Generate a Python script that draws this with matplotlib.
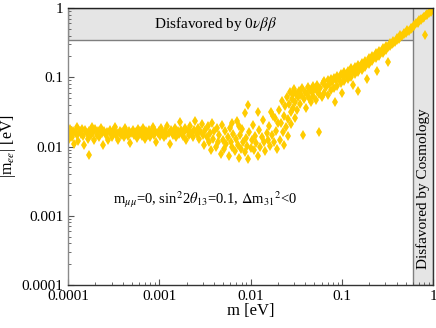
import matplotlib
matplotlib.use("Agg")
import matplotlib.pyplot as plt
from matplotlib.ticker import FixedLocator, FixedFormatter, LogLocator, NullFormatter

plt.rcParams['font.family'] = ['Liberation Serif', 'DejaVu Serif']
plt.rcParams['mathtext.fontset'] = 'stix'

# ---- data: (m [eV], |m_ee| [eV]) ----
m_flat = [1.00e-4, 1.02e-4, 1.05e-4, 1.08e-4, 1.10e-4, 1.13e-4, 1.16e-4, 1.20e-4, 1.24e-4, 1.27e-4,
          1.30e-4, 1.34e-4, 1.38e-4, 1.42e-4, 1.46e-4, 1.50e-4, 1.55e-4, 1.60e-4, 1.65e-4, 1.70e-4,
          1.72e-4, 1.78e-4, 1.83e-4, 1.90e-4, 1.95e-4, 2.00e-4, 2.07e-4, 2.15e-4, 2.20e-4, 2.28e-4,
          2.35e-4, 2.42e-4, 2.50e-4, 2.58e-4, 2.67e-4, 2.75e-4, 2.85e-4, 2.95e-4, 3.05e-4, 3.15e-4,
          3.25e-4, 3.35e-4, 3.45e-4, 3.57e-4, 3.70e-4, 3.82e-4, 3.95e-4, 4.08e-4, 4.20e-4, 4.35e-4,
          4.50e-4, 4.65e-4, 4.80e-4, 4.95e-4, 5.10e-4, 5.30e-4, 5.50e-4, 5.70e-4, 5.85e-4, 6.00e-4,
          6.20e-4, 6.40e-4, 6.60e-4, 6.80e-4, 7.00e-4, 7.20e-4, 7.45e-4, 7.70e-4, 7.95e-4, 8.20e-4,
          8.45e-4, 8.70e-4, 9.00e-4, 9.30e-4, 9.60e-4, 9.90e-4, 1.02e-3, 1.05e-3, 1.08e-3, 1.12e-3,
          1.15e-3, 1.19e-3, 1.23e-3, 1.27e-3, 1.31e-3, 1.35e-3, 1.40e-3, 1.44e-3, 1.49e-3, 1.54e-3,
          1.59e-3, 1.64e-3, 1.70e-3, 1.75e-3, 1.80e-3, 1.86e-3, 1.92e-3, 1.98e-3, 2.05e-3, 2.12e-3,
          2.18e-3, 2.25e-3, 2.32e-3, 2.40e-3, 2.48e-3, 2.56e-3, 2.65e-3, 2.74e-3, 2.83e-3, 2.92e-3,
          3.00e-3]
mee_flat = [0.016, 0.013, 0.018, 0.015, 0.0135, 0.017, 0.011, 0.016, 0.0145, 0.019,
            0.012, 0.0165, 0.015, 0.018, 0.014, 0.0105, 0.0175, 0.0155, 0.013, 0.0075,
            0.017, 0.0145, 0.019, 0.016, 0.0125, 0.018, 0.0148, 0.0165, 0.0135, 0.0185,
            0.0155, 0.0105, 0.017, 0.0145, 0.016, 0.0125, 0.0175, 0.015, 0.0135, 0.0165,
            0.019, 0.0145, 0.0158, 0.0125, 0.017, 0.0148, 0.0162, 0.0135, 0.0185, 0.0155,
            0.0142, 0.0168, 0.0112, 0.0158, 0.0175, 0.0145, 0.016, 0.0132, 0.0178, 0.0152,
            0.0168, 0.014, 0.0185, 0.0155, 0.0128, 0.0165, 0.0148, 0.0175, 0.0138, 0.0158,
            0.0192, 0.0145, 0.0165, 0.0118, 0.0155, 0.017, 0.0142, 0.0182, 0.0158, 0.0135,
            0.0168, 0.0148, 0.0195, 0.0155, 0.0108, 0.0172, 0.0145, 0.016, 0.0185, 0.0138,
            0.0165, 0.0152, 0.0225, 0.0175, 0.0142, 0.016, 0.0188, 0.0125, 0.0168, 0.0148,
            0.0198, 0.0158, 0.0135, 0.0175, 0.0235, 0.0152, 0.0188, 0.0128, 0.0168, 0.021,
            0.0145]

m_dip = [3.1e-3, 3.2e-3, 3.3e-3, 3.4e-3, 3.5e-3, 3.6e-3, 3.7e-3, 3.8e-3, 3.9e-3, 4.0e-3,
         4.15e-3, 4.3e-3, 4.4e-3, 4.55e-3, 4.7e-3, 4.85e-3, 5.0e-3, 5.15e-3, 5.3e-3, 5.45e-3,
         5.6e-3, 5.8e-3, 6.0e-3, 6.15e-3, 6.3e-3, 6.5e-3, 6.7e-3, 6.9e-3, 7.1e-3, 7.3e-3,
         7.5e-3, 7.7e-3, 7.9e-3, 8.1e-3, 8.35e-3, 8.6e-3, 8.85e-3, 9.1e-3, 9.4e-3, 9.7e-3,
         1.00e-2, 1.03e-2, 1.06e-2, 1.09e-2, 1.12e-2, 1.16e-2, 1.20e-2, 1.24e-2, 1.28e-2, 1.32e-2,
         1.36e-2, 1.40e-2, 1.45e-2, 1.50e-2, 1.55e-2, 1.60e-2, 1.65e-2, 1.70e-2, 1.76e-2, 1.82e-2,
         1.88e-2, 1.94e-2, 2.00e-2, 8.8e-3, 9.5e-3, 1.22e-2, 1.66e-2, 1.85e-2, 6.2e-3, 7.4e-3]
mee_dip = [0.0105, 0.0172, 0.0135, 0.0195, 0.0118, 0.0155, 0.0088, 0.0215, 0.0128, 0.0165,
           0.0098, 0.0182, 0.0115, 0.0145, 0.0078, 0.0205, 0.0125, 0.0092, 0.0168, 0.0108,
           0.0138, 0.0072, 0.0188, 0.0118, 0.0098, 0.0152, 0.0085, 0.0128, 0.0235, 0.0105,
           0.0068, 0.0145, 0.0092, 0.0178, 0.0115, 0.0082, 0.0132, 0.0102, 0.0065, 0.0162,
           0.0095, 0.0125, 0.0205, 0.0088, 0.0142, 0.0112, 0.0072, 0.0175, 0.0098, 0.0135,
           0.0245, 0.0115, 0.0085, 0.0158, 0.0125, 0.0195, 0.0102, 0.0148, 0.0275, 0.0118,
           0.0168, 0.0092, 0.0215, 0.030, 0.040, 0.031, 0.031, 0.026, 0.0215, 0.0195]

m_rise = [0.0205, 0.021, 0.0215, 0.022, 0.0225, 0.023, 0.0235, 0.024, 0.0245, 0.025,
          0.0255, 0.026, 0.0265, 0.027, 0.0275, 0.028, 0.0285, 0.029, 0.0295, 0.030,
          0.0305, 0.031, 0.0315, 0.032, 0.033, 0.034, 0.035, 0.036, 0.037, 0.038,
          0.039, 0.040, 0.041, 0.042, 0.043, 0.044, 0.045, 0.046, 0.047, 0.048,
          0.049, 0.050, 0.052, 0.053, 0.054, 0.056, 0.056, 0.058, 0.060, 0.062]
mee_rise = [0.034, 0.0125, 0.022, 0.045, 0.016, 0.028, 0.0105, 0.038, 0.019, 0.052,
            0.025, 0.014, 0.041, 0.062, 0.031, 0.021, 0.048, 0.057, 0.036, 0.068,
            0.026, 0.044, 0.058, 0.034, 0.052, 0.064, 0.041, 0.055, 0.070, 0.0148,
            0.048, 0.062, 0.036, 0.058, 0.072, 0.051, 0.066, 0.044, 0.061, 0.075,
            0.054, 0.068, 0.047, 0.064, 0.078, 0.016, 0.058, 0.071, 0.052, 0.082]

m_degen = [0.064, 0.064, 0.067, 0.070, 0.070, 0.073, 0.076, 0.076, 0.079, 0.082,
           0.082, 0.085, 0.086, 0.089, 0.089, 0.093, 0.097, 0.097, 0.101, 0.102,
           0.106, 0.106, 0.111, 0.116, 0.116, 0.121, 0.126, 0.126, 0.132, 0.133,
           0.139, 0.139, 0.145, 0.149, 0.151, 0.151, 0.158, 0.165, 0.165, 0.172,
           0.180, 0.180, 0.188, 0.190, 0.198, 0.198, 0.207, 0.216, 0.216, 0.226,
           0.236, 0.236, 0.246, 0.247, 0.258, 0.258, 0.270, 0.282, 0.282, 0.295,
           0.308, 0.308, 0.320, 0.322, 0.337, 0.337, 0.352, 0.368, 0.368, 0.385,
           0.402, 0.402, 0.420, 0.440, 0.440, 0.460, 0.480, 0.480, 0.500, 0.520,
           0.520, 0.545, 0.570, 0.570, 0.595, 0.620, 0.620, 0.650, 0.680, 0.680,
           0.710, 0.740, 0.740, 0.770, 0.800, 0.800, 0.820, 0.840, 0.870, 0.870,
           0.910, 0.950, 0.950, 0.980, 1.000]
mee_degen = [0.088, 0.060, 0.072, 0.092, 0.055, 0.080, 0.095, 0.065, 0.086, 0.098,
             0.070, 0.044, 0.090, 0.104, 0.075, 0.095, 0.110, 0.082, 0.060, 0.104,
             0.118, 0.088, 0.108, 0.125, 0.095, 0.116, 0.134, 0.100, 0.078, 0.125,
             0.142, 0.112, 0.132, 0.063, 0.152, 0.118, 0.142, 0.162, 0.128, 0.152,
             0.172, 0.140, 0.094, 0.162, 0.188, 0.155, 0.178, 0.205, 0.170, 0.195,
             0.222, 0.188, 0.123, 0.212, 0.242, 0.205, 0.232, 0.262, 0.225, 0.252,
             0.285, 0.248, 0.166, 0.275, 0.310, 0.285, 0.300, 0.338, 0.312, 0.328,
             0.370, 0.345, 0.360, 0.405, 0.380, 0.395, 0.440, 0.420, 0.430, 0.480,
             0.460, 0.470, 0.520, 0.500, 0.515, 0.570, 0.550, 0.600, 0.630, 0.610,
             0.660, 0.690, 0.675, 0.720, 0.750, 0.735, 0.410, 0.790, 0.820, 0.805,
             0.860, 0.900, 0.890, 0.940, 0.970]

m_all = m_flat + m_dip + m_rise + m_degen
mee_all = mee_flat + mee_dip + mee_rise + mee_degen

bb_limit = 0.35      # 0vbb bound on |m_ee|
cosmo_limit = 0.6    # cosmology bound on m

x_ticks = [1e-4, 1e-3, 1e-2, 1e-1, 1]
x_ticklabels = ["0.0001", "0.001", "0.01", "0.1", "1"]
y_ticks = [1e-4, 1e-3, 1e-2, 1e-1, 1]
y_ticklabels = ["0.0001", "0.001", "0.01", "0.1", "1"]

gold = "#FFCC00"
band = "#E5E5E5"
edge = "#7F7F7F"

fig = plt.figure(figsize=(4.36, 3.28), dpi=100)
ax = fig.add_axes([68/436, 1 - 285/328, (433-68)/436, (285-8)/328])
ax.set_xscale('log')
ax.set_yscale('log')
ax.set_xlim(1e-4, 1)
ax.set_ylim(1e-4, 1)

ax.axhspan(bb_limit, 1, facecolor=band, edgecolor=edge, linewidth=1.0, zorder=1)
ax.axvspan(cosmo_limit, 1, facecolor=band, edgecolor=edge, linewidth=1.0, zorder=1)

ax.plot(m_all, mee_all, linestyle='none', marker='d', markersize=4.8,
        markeredgewidth=0, color=gold, zorder=3)

ax.text(0.0041, 0.59, r"Disfavored by 0$\nu\beta\beta$", ha='center', va='center',
        fontsize=11, zorder=4)
ax.text(0.775, 0.0025, "Disfavored by Cosmology", rotation=90, ha='center', va='center',
        fontsize=11, zorder=4)
ax.text(0.0032, 0.0017,
        r"m$_{\mu\mu}$=0, sin$^2$2$\theta_{13}$=0.1, $\Delta$m$_{31}$$^2$<0",
        ha='center', va='center', fontsize=10.5)

ax.xaxis.set_major_locator(FixedLocator(x_ticks))
ax.xaxis.set_major_formatter(FixedFormatter(x_ticklabels))
ax.yaxis.set_major_locator(FixedLocator(y_ticks))
ax.yaxis.set_major_formatter(FixedFormatter(y_ticklabels))
ax.xaxis.set_minor_locator(LogLocator(base=10, subs=range(2, 10), numticks=20))
ax.yaxis.set_minor_locator(LogLocator(base=10, subs=range(2, 10), numticks=20))
ax.xaxis.set_minor_formatter(NullFormatter())
ax.yaxis.set_minor_formatter(NullFormatter())
ax.tick_params(which='both', direction='in', top=False, right=False, labelsize=11,
               color='#555555')
ax.tick_params(which='major', length=4, width=0.8)
ax.tick_params(which='minor', length=2, width=0.6)

ax.spines['left'].set_color('#8a8a8a')
ax.spines['bottom'].set_color('#333333')
ax.spines['top'].set_color('#222222')
ax.spines['right'].set_color('#333333')
for s in ax.spines.values():
    s.set_linewidth(1.0)
    s.set_zorder(5)

ax.set_xlabel("m [eV]", fontsize=12, labelpad=0)
ax.set_ylabel(r"|m$_{ee}$| [eV]", fontsize=11.5, labelpad=2)

fig.savefig("out.png", dpi=100)
